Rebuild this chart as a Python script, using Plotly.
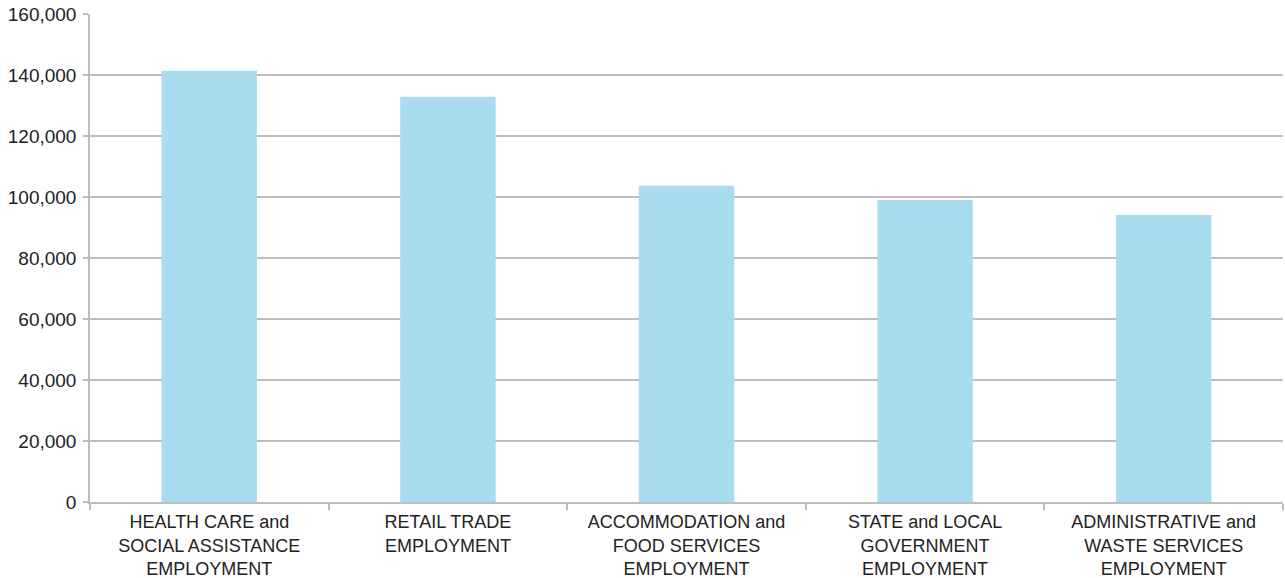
import plotly.graph_objects as go

categories = [
    "HEALTH CARE and<br>SOCIAL ASSISTANCE<br>EMPLOYMENT",
    "RETAIL TRADE<br>EMPLOYMENT",
    "ACCOMMODATION and<br>FOOD SERVICES<br>EMPLOYMENT",
    "STATE and LOCAL<br>GOVERNMENT<br>EMPLOYMENT",
    "ADMINISTRATIVE and<br>WASTE SERVICES<br>EMPLOYMENT",
]
employment = [141400, 132900, 103700, 99000, 94100]

y_ticks = [0, 20000, 40000, 60000, 80000, 100000, 120000, 140000, 160000]
y_tick_labels = ["0", "20,000", "40,000", "60,000", "80,000",
                 "100,000", "120,000", "140,000", "160,000"]

bar_color = "#A8DCEE"
grid_color = "#BDBDBD"
text_color = "#222222"

fig = go.Figure(
    go.Bar(
        x=categories,
        y=employment,
        marker=dict(color=bar_color, line=dict(width=0)),
        width=0.4,
    )
)

fig.update_layout(
    width=1285,
    height=578,
    margin=dict(l=90, r=2, t=14, b=76),
    paper_bgcolor="white",
    plot_bgcolor="white",
    showlegend=False,
    font=dict(family="Liberation Sans, Arial, sans-serif", size=18, color=text_color),
)

fig.update_xaxes(
    type="category",
    automargin=False,
    showline=True,
    linecolor=grid_color,
    linewidth=1.5,
    ticks="outside",
    tickson="boundaries",
    ticklen=6,
    tickcolor=grid_color,
    tickwidth=1.5,
    showgrid=False,
    ticklabelstandoff=3,
    tickfont=dict(size=18, color=text_color),
)

fig.update_yaxes(
    range=[0, 160000],
    automargin=False,
    tickvals=y_ticks,
    ticktext=y_tick_labels,
    showgrid=True,
    gridcolor=grid_color,
    gridwidth=1.5,
    showline=True,
    linecolor=grid_color,
    linewidth=1.5,
    ticks="outside",
    ticklen=5,
    tickcolor=grid_color,
    tickwidth=1.5,
    zeroline=False,
    ticklabelstandoff=3,
    tickfont=dict(size=19, color=text_color),
)

fig.write_html("out.html")
